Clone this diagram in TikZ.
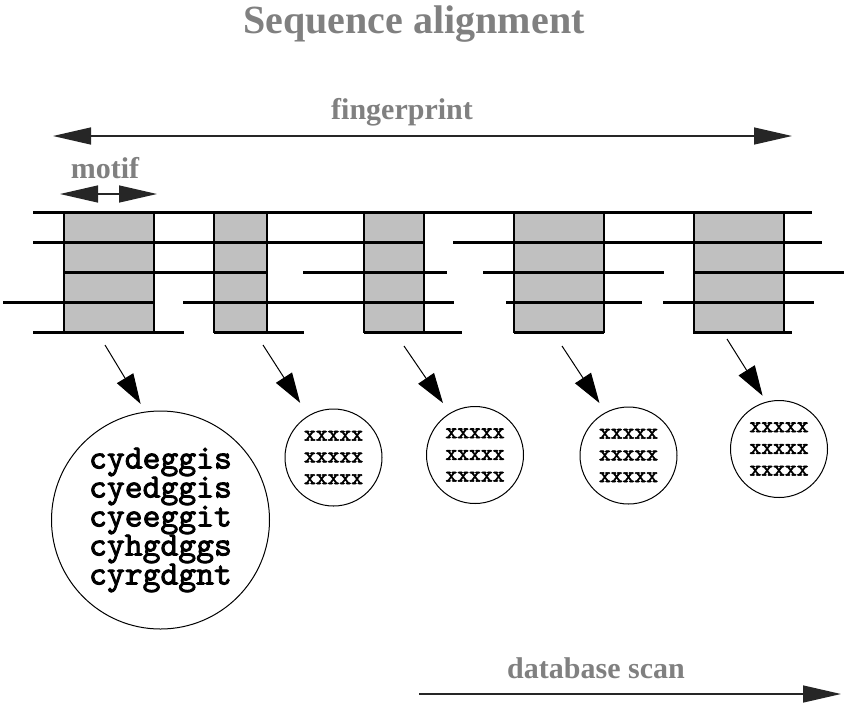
\documentclass[tikz,border=0pt]{standalone}
\usepackage{fontspec}
\setmainfont{Liberation Serif}
\newfontfamily\seqfont[FakeBold=2.5]{lmmono10-regular.otf}
\usetikzlibrary{arrows.meta,positioning,calc}
\definecolor{titlegray}{HTML}{808080}
\definecolor{motifgray}{HTML}{C0C0C0}
\tikzset{
    bigtip/.style={line width=1.4pt, draw=black!85},
    heading/.style={text=titlegray, font=\bfseries\fontsize{#1}{#1}\selectfont, inner sep=0pt, anchor=base},
}

\begin{document}
\begin{tikzpicture}[x=1pt, y=-1pt,
    motifbox/.style={draw, line width=1.5pt, fill=motifgray, minimum height=120pt, minimum width=#1, inner sep=0pt},
    seqcircle/.style={circle, draw, line width=1pt, inner sep=0pt, minimum size=#1, align=center},
    seqline/.style={line width=3pt},
    pointer/.style={line width=1pt, -{Triangle[length=30pt,width=19pt]}}]
  \useasboundingbox (0,0) rectangle (845,705);

  \node [heading=40] (seqtitle) at (414,33) {Sequence alignment};

  % FINGERPRINT Y MOTIF
  \coordinate (fpleft) at (53,136);
  \coordinate (fpright) at (792,136);
  \draw[bigtip, {Triangle[length=38pt,width=17pt]}-{Triangle[length=38pt,width=17pt]}] (fpleft) -- (fpright);
  \node [heading=30] (fingerprinttitle) at (402,119) {fingerprint};

  \coordinate (motifleft) at (60,194);
  \coordinate (motifright) at (157,194);
  \draw[bigtip, {Triangle[length=38pt,width=17pt]}-{Triangle[length=38pt,width=17pt]}] (motifleft) -- (motifright);
  \node [heading=30] (motiftitle) at (105,178) {motif};

  % BLOQUES
  \foreach \i/\x/\w in {1/109/90, 2/240.5/53, 3/394/60, 4/559/90, 5/739/90}
    \node [motifbox=\w pt] (block\i) at (\x,272) {};

  \foreach \y/\xa/\xb in {212/33/812,
                          242/33/424, 242/453/822,
                          272/64/267, 272/303/447, 272/483/664, 272/693/844,
                          302/3/154, 302/183/454, 302/506/642, 302/663/814,
                          332/33/184, 332/214/304, 332/364/462, 332/514/604, 332/693/792}
    \draw[seqline] (\xa,\y) -- (\xb,\y);

  % SECUENCIAS
  \node [seqcircle=218pt, font=\seqfont\fontsize{34}{29}\selectfont] (seq1) at (160.5,520)
    {cydeggis\\cyedggis\\cyeeggit\\cyhgdggs\\cyrgdgnt};
  \foreach \i/\x/\y in {2/333.5/457.5, 3/475/455, 4/628.5/455.5, 5/779/449}
    \node [seqcircle=97pt, font=\seqfont\fontsize{22.5}{21.7}\selectfont] (seq\i) at (\x,\y)
      {xxxxx\\xxxxx\\xxxxx};

  \coordinate (tail1) at (105,345);
  \coordinate (tail2) at (263,345);
  \coordinate (tail3) at (404,346);
  \coordinate (tail4) at (562,346);
  \coordinate (tail5) at (727,339);
  \foreach \i/\ang/\gap in {1/98/9, 2/121/15, 3/121/12, 4/118/11, 5/105/7}
    \draw[pointer, shorten >=\gap pt] (tail\i) -- (seq\i.\ang);

  % DATABASE SCAN
  \coordinate (scanleft) at (419,694);
  \coordinate (scanright) at (841,694);
  \draw[bigtip, -{Triangle[length=38pt,width=17pt]}] (scanleft) -- (scanright);
  \node [heading=30] (scantitle) at (596,678) {database scan};
\end{tikzpicture}
\end{document}
